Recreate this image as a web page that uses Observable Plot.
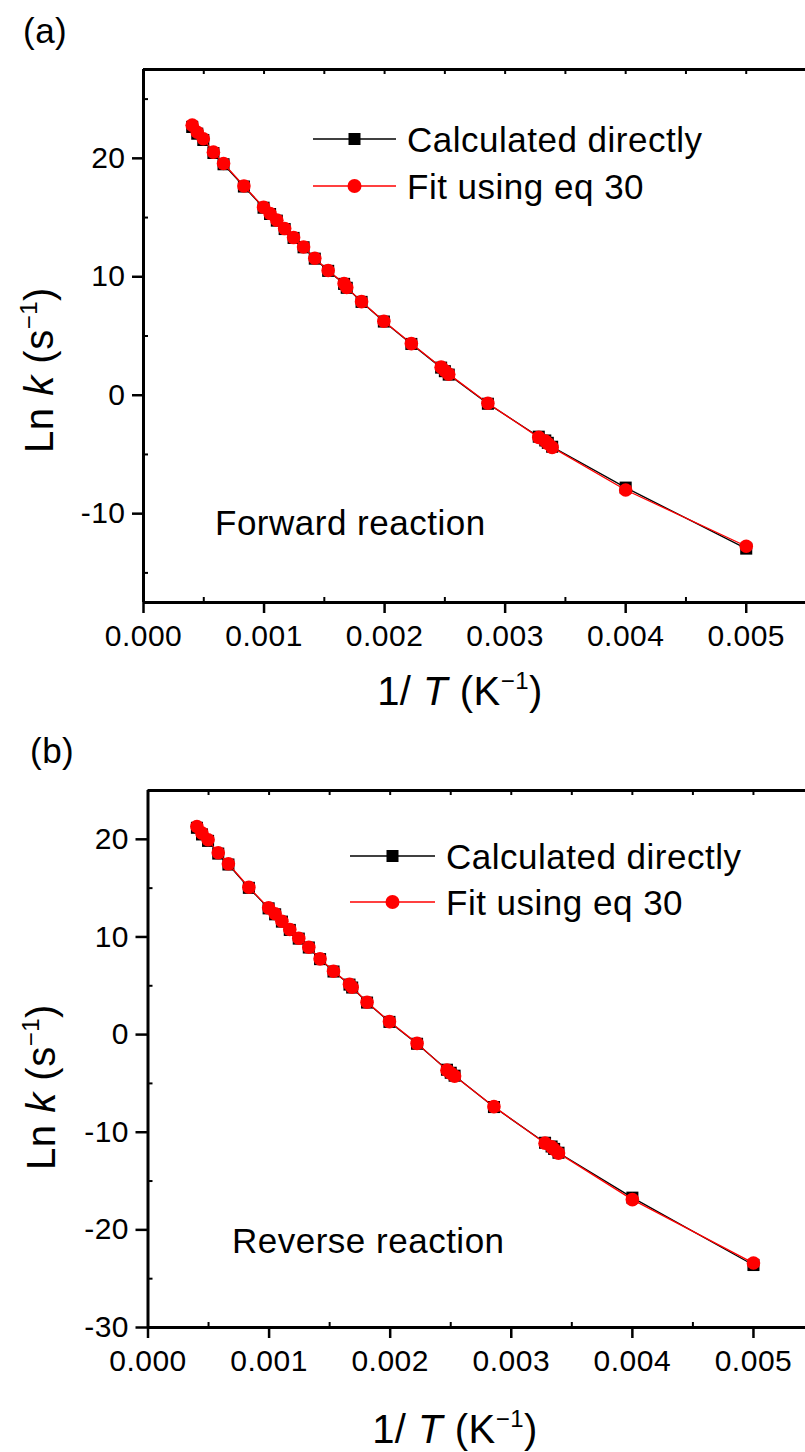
<!DOCTYPE html>
<html><head><meta charset="utf-8">
<script src="https://cdn.jsdelivr.net/npm/d3@7"></script>
<script src="https://cdn.jsdelivr.net/npm/@observablehq/plot@0.6"></script>
<style>
body{margin:0;background:#fff;}
#chart{width:805px;}
#chart svg{display:block;}
#chart svg text{letter-spacing:0.5px;}
</style></head><body><div id="chart"></div>
<script>
// 1/T values (K^-1)
const invT = [0.000404, 0.000446, 0.000496, 0.00058, 0.000664, 0.000833, 0.000996, 0.00105, 0.001106, 0.001171, 0.001245, 0.001328, 0.001421, 0.001532, 0.001664, 0.001686, 0.001809, 0.001994, 0.002222, 0.002469, 0.0025, 0.002532, 0.002857, 0.003279, 0.003333, 0.003354, 0.00339, 0.004, 0.005];
// Forward reaction, ln k
const fwdCalc = [22.65, 22.08, 21.55, 20.45, 19.5, 17.62, 15.83, 15.3, 14.74, 14.03, 13.28, 12.49, 11.53, 10.5, 9.4, 9.07, 7.88, 6.22, 4.33, 2.33, 2.03, 1.74, -0.72, -3.5, -3.82, -4.02, -4.35, -7.8, -12.95];
const fwdFit  = [22.8, 22.2, 21.65, 20.52, 19.56, 17.67, 15.87, 15.34, 14.78, 14.07, 13.31, 12.52, 11.56, 10.53, 9.43, 9.1, 7.9, 6.24, 4.36, 2.37, 2.07, 1.78, -0.68, -3.56, -3.87, -4.07, -4.4, -8.0, -12.75];
// Reverse reaction, ln k
const revCalc = [21.18, 20.5, 19.84, 18.54, 17.42, 15.03, 12.93, 12.32, 11.57, 10.72, 9.83, 8.92, 7.73, 6.46, 5.12, 4.82, 3.28, 1.3, -0.94, -3.6, -3.91, -4.21, -7.42, -11.08, -11.46, -11.71, -12.1, -16.7, -23.6];
const revFit  = [21.31, 20.63, 19.95, 18.62, 17.49, 15.09, 12.98, 12.37, 11.61, 10.76, 9.87, 8.95, 7.76, 6.49, 5.15, 4.85, 3.31, 1.33, -0.9, -3.64, -3.95, -4.25, -7.38, -11.12, -11.5, -11.75, -12.14, -16.9, -23.4];

const xTicks = [0, 0.001, 0.002, 0.003, 0.004, 0.005];
const xMinor = [0.0005, 0.0015, 0.0025, 0.0035, 0.0045];
const xTop = [0.0005, 0.001, 0.0015, 0.002, 0.0025, 0.003, 0.0035, 0.004, 0.0045, 0.005];
const yTicksA = [-10, 0, 10, 20];
const yMinorA = [-15, -5, 5, 15, 25];
const yTicksB = [-30, -20, -10, 0, 10, 20];
const yMinorB = [-25, -15, -5, 5, 15];
const legendLabels = ["Calculated directly", "Fit using eq 30"];
const panelNames = ["(a)", "(b)"];
const noteLabels = ["Forward reaction", "Reverse reaction"];

const font = "'Liberation Sans', Arial, Helvetica, sans-serif";

function rich(sel, parts) {
  parts.forEach(p => {
    const t = sel.append("tspan").text(p.t);
    if (p.i) t.attr("font-style", "italic");
    if (p.sup) t.attr("font-size", p.sup.size).attr("dy", p.sup.dy);
    if (p.dy) t.attr("dy", p.dy);
  });
}

function makePanel(cfg) {
  const rows = invT.map((x, i) => ({x, calc: cfg.calc[i], fit: cfg.fit[i]}));
  const svgEl = Plot.plot({
    width: 805, height: cfg.height,
    marginLeft: cfg.ml, marginRight: 0, marginTop: cfg.mt, marginBottom: cfg.mb,
    x: {domain: [0, 0.0055], range: cfg.xRange},
    y: {domain: cfg.yDomain},
    style: {fontFamily: font, fontSize: "30px", background: "white", color: "black", overflow: "visible"},
    marks: [
      Plot.axisX({ticks: xTicks, tickFormat: d3.format(".3f"), tickSize: 11, tickPadding: 11, strokeWidth: 2.5, label: null, fontSize: 30}),
      Plot.axisX({ticks: xMinor, tickFormat: () => "", tickSize: -5, strokeWidth: 2, label: null}),
      Plot.axisX({anchor: "top", ticks: xTop, tickFormat: () => "", tickSize: -4, strokeWidth: 2, label: null}),
      Plot.axisY({ticks: cfg.yTicks, tickFormat: d => String(d), tickSize: cfg.yTickSize, tickPadding: 7, strokeWidth: 2.5, label: null, fontSize: 30}),
      Plot.axisY({ticks: cfg.yMinor, tickFormat: () => "", tickSize: -5, strokeWidth: 2, label: null}),
      Plot.ruleX([0], {stroke: "black", strokeWidth: 3}),
      Plot.ruleY(cfg.yDomain, {stroke: "black", strokeWidth: 3}),
      Plot.line(rows, {x: "x", y: "calc", stroke: "black", strokeWidth: 1.3}),
      Plot.dot(rows, {x: "x", y: "calc", symbol: "square", r: 6.8, fill: "black", stroke: "none"}),
      Plot.line(rows, {x: "x", y: "fit", stroke: "#ff0000", strokeWidth: 1.3}),
      Plot.dot(rows, {x: "x", y: "fit", symbol: "circle", r: 6.8, fill: "#ff0000", stroke: "none"})
    ]
  });
  const svg = d3.select(svgEl);
  const g = svg.append("g").attr("font-family", font).attr("fill", "black").attr("text-anchor", "start");
  // panel letter
  g.append("text").attr("x", cfg.letterX).attr("y", 43).attr("font-size", 35).text(cfg.letter);
  // y label
  const yl = g.append("text").attr("transform", `translate(${cfg.yLabX},${cfg.yLabY}) rotate(-90)`)
    .attr("text-anchor", "middle").attr("font-size", 40);
  rich(yl, [{t: "Ln "}, {t: "k", i: true}, {t: " (s"}, {t: "\u22121", sup: {size: 24, dy: -16}}, {t: ")", dy: 16}]);
  // x label
  const xl = g.append("text").attr("x", cfg.xLabX).attr("y", cfg.xLabY)
    .attr("text-anchor", "middle").attr("font-size", 40);
  rich(xl, [{t: "1/ "}, {t: "T", i: true}, {t: " (K"}, {t: "\u22121", sup: {size: 24, dy: -16}}, {t: ")", dy: 16}]);
  // note
  g.append("text").attr("x", cfg.noteX).attr("y", cfg.noteY).attr("font-size", 35).text(cfg.note);
  // legend
  const L = cfg.legend;
  const mid = (L.x0 + L.x1) / 2;
  [["black", "square"], ["#ff0000", "circle"]].forEach(([c, s], i) => {
    const yy = L.y[i];
    g.append("line").attr("x1", L.x0).attr("x2", L.x1).attr("y1", yy).attr("y2", yy)
      .attr("stroke", c).attr("stroke-width", 1.3);
    if (s === "square") g.append("rect").attr("x", mid - 6).attr("y", yy - 6).attr("width", 12).attr("height", 12).attr("fill", c);
    else g.append("circle").attr("cx", mid).attr("cy", yy).attr("r", 7).attr("fill", c);
    g.append("text").attr("x", L.tx).attr("y", yy + 13).attr("font-size", 35).text(legendLabels[i]);
  });
  return svgEl;
}

const chart = document.getElementById("chart");
chart.append(makePanel({
  height: 720, ml: 143, mt: 69, mb: 118, xRange: [143, 806], yDomain: [-17.5, 27.5],
  yTicks: yTicksA, yMinor: yMinorA, yTickSize: 11, calc: fwdCalc, fit: fwdFit,
  letter: panelNames[0], letterX: 23, yLabX: 53, yLabY: 370, xLabX: 460, xLabY: 705,
  note: noteLabels[0], noteX: 215, noteY: 535,
  legend: {x0: 313, x1: 396, y: [139, 186], tx: 407}
}));
chart.append(makePanel({
  height: 732, ml: 147.5, mt: 70, mb: 125, xRange: [147.5, 813.5], yDomain: [-30, 25],
  yTicks: yTicksB, yMinor: yMinorB, yTickSize: 12, calc: revCalc, fit: revFit,
  letter: panelNames[1], letterX: 30, yLabX: 55, yLabY: 367, xLabX: 455, xLabY: 723,
  note: noteLabels[1], noteX: 232, noteY: 533,
  legend: {x0: 350, x1: 435, y: [136, 182], tx: 446}
}));
</script></body></html>
